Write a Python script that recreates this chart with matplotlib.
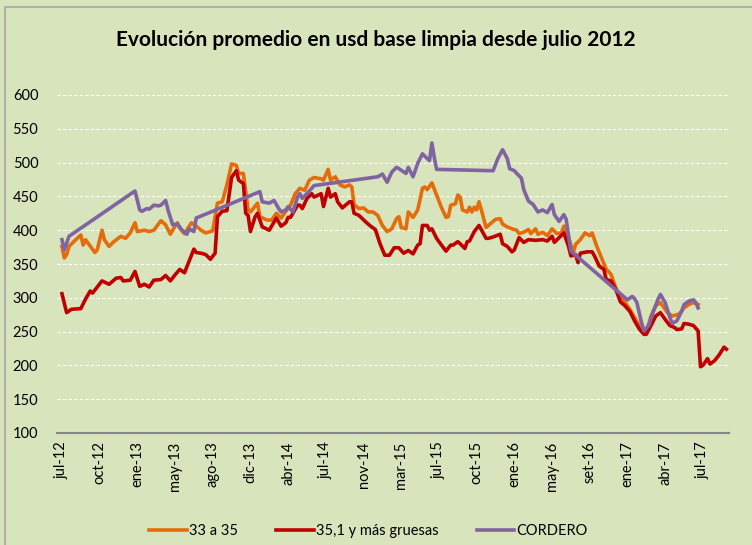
import matplotlib.pyplot as plt
from matplotlib.patches import Rectangle

plt.rcParams['font.family'] = ['Lato', 'DejaVu Sans']

# week index (category position) and value
fino_weeks = [0, 1, 2, 3, 5, 8, 9, 10, 14, 15, 17, 18, 20, 22, 25, 27, 29, 31, 32, 35,
              37, 39, 42, 44, 46, 48, 49, 50, 52, 55, 57, 59, 61, 64, 65, 66, 68, 70, 72, 74,
              75, 77, 79, 80, 83, 84, 87, 89, 91, 93, 95, 97, 99, 101, 103, 105, 107, 110, 111, 113,
              114, 116, 118, 120, 122, 123, 124, 126, 128, 130, 132, 134, 136, 138, 140, 142, 143, 144, 146, 147,
              149, 151, 153, 154, 155, 157, 159, 161, 163, 164, 165, 167, 168, 169, 170, 172, 173, 174, 175, 176,
              177, 178, 180, 182, 184, 186, 187, 189, 191, 193, 194, 196, 198, 199, 201, 202, 204, 206, 208, 210,
              212, 213, 215, 217, 218, 220, 222, 224, 225, 227, 229, 231, 233, 235, 237, 239, 241, 243, 245, 247,
              248, 250, 252, 254, 255, 257, 259, 262, 264, 266, 268, 270]
fino_vals = [376, 359, 364, 376, 383, 393, 378, 386, 367, 371, 400, 386, 376, 383, 391, 388, 396, 411, 398, 400,
             398, 400, 414, 408, 394, 406, 411, 403, 395, 411, 406, 400, 396, 399, 420, 440, 442, 467, 498, 496,
             484, 484, 430, 427, 440, 420, 415, 415, 425, 418, 428, 437, 454, 462, 459, 474, 478, 476, 474, 490,
             474, 479, 467, 464, 467, 464, 438, 432, 433, 427, 427, 422, 407, 398, 402, 417, 420, 404, 402, 427,
             419, 430, 462, 464, 460, 470, 452, 434, 419, 420, 437, 439, 452, 449, 430, 427, 434, 427, 434, 430,
             442, 430, 404, 410, 416, 417, 409, 405, 402, 400, 395, 397, 401, 395, 402, 394, 397, 392, 402, 395,
             396, 406, 389, 367, 379, 386, 396, 392, 396, 376, 359, 342, 335, 315, 301, 293, 283, 271, 259, 251,
             249, 273, 288, 293, 288, 278, 273, 276, 285, 290, 293, 290]

grueso_weeks = [0, 2, 4, 8, 10, 12, 13, 17, 20, 23, 25, 26, 29, 31, 33, 35, 37, 39, 42, 44,
                46, 48, 50, 52, 56, 57, 59, 61, 63, 65, 66, 68, 70, 72, 74, 75, 77, 78, 79, 80,
                82, 83, 85, 88, 91, 93, 95, 96, 97, 100, 101, 102, 104, 106, 107, 110, 111, 113, 114, 116,
                117, 119, 122, 123, 124, 126, 129, 131, 133, 135, 137, 139, 141, 143, 145, 147, 149, 151, 152, 153,
                155, 156, 157, 159, 160, 163, 165, 166, 168, 169, 171, 172, 173, 175, 177, 180, 181, 183, 186, 187,
                189, 191, 192, 194, 196, 198, 201, 204, 206, 208, 209, 211, 213, 215, 216, 218, 219, 220, 223, 225,
                226, 228, 230, 231, 233, 235, 237, 239, 241, 243, 245, 247, 248, 250, 252, 254, 256, 258, 260, 261,
                263, 264, 266, 268, 270, 271, 272, 274, 275, 277, 279, 281, 282]
grueso_vals = [306, 278, 283, 284, 298, 310, 307, 325, 320, 329, 330, 325, 326, 339, 317, 320, 316, 326, 327, 333,
               325, 334, 342, 337, 372, 367, 366, 364, 357, 366, 420, 428, 429, 478, 488, 474, 469, 425, 422, 398,
               420, 425, 405, 400, 418, 406, 411, 419, 419, 437, 437, 432, 447, 454, 449, 454, 435, 462, 449, 454,
               442, 433, 442, 442, 425, 422, 412, 406, 401, 380, 363, 363, 374, 374, 366, 370, 365, 378, 380, 407,
               407, 400, 402, 388, 383, 369, 378, 378, 383, 380, 373, 383, 384, 398, 407, 388, 388, 390, 394, 380,
               376, 368, 371, 389, 382, 386, 385, 386, 384, 391, 382, 389, 396, 376, 362, 364, 352, 366, 368, 368,
               362, 347, 342, 327, 325, 313, 294, 288, 280, 266, 254, 246, 246, 259, 273, 278, 268, 259, 256, 253,
               254, 262, 261, 259, 251, 198, 200, 210, 202, 207, 216, 227, 224]

cordero_weeks = [0, 1, 3, 31, 33, 34, 36, 37, 39, 41, 42, 44, 45, 47, 49, 51, 53, 54, 56, 57,
                 84, 85, 88, 90, 92, 93, 95, 96, 98, 100, 101, 102, 105, 107, 134, 136, 138, 140, 142, 143,
                 146, 147, 149, 151, 153, 155, 156, 157, 158, 159, 183, 185, 187, 189, 190, 192, 193, 195, 196, 198,
                 200, 202, 204, 206, 208, 209, 211, 213, 214, 216, 240, 242, 243, 244, 246, 247, 249, 251, 253, 254,
                 256, 258, 259, 261, 263, 264, 266, 268, 269, 270]
cordero_vals = [386, 371, 391, 458, 430, 428, 432, 431, 437, 436, 437, 444, 430, 408, 409, 400, 394, 402, 398, 418,
                457, 442, 440, 444, 432, 427, 430, 435, 427, 449, 454, 447, 458, 466, 479, 483, 471, 486, 493, 491,
                484, 493, 479, 499, 513, 506, 503, 529, 508, 490, 488, 506, 519, 506, 491, 488, 484, 477, 460, 443,
                438, 427, 430, 426, 438, 423, 413, 423, 416, 369, 297, 302, 299, 293, 263, 251, 259, 280, 298, 305,
                293, 271, 262, 266, 280, 290, 295, 297, 293, 285]

tick_labels = ['jul-12', 'oct-12', 'ene-13', 'may-13', 'ago-13', 'dic-13', 'abr-14', 'jul-14', 'nov-14',
               'mar-15', 'jul-15', 'oct-15', 'ene-16', 'may-16', 'set-16', 'ene-17', 'abr-17', 'jul-17']
WEEKS_PER_LABEL = 16

BG = '#d8e4bc'

fig = plt.figure(figsize=(7.52, 5.45), dpi=100, facecolor=BG)
fig.patches.append(Rectangle((5 / 752, -0.05), 1.1, 1 - 7 / 545 + 0.05, transform=fig.transFigure,
                             fill=False, edgecolor='#a6a6a6', linewidth=1.2))

ax = fig.add_axes([57 / 752, 1 - 433 / 545, 672 / 752, 338 / 545])
ax.set_facecolor(BG)

ax.plot(fino_weeks, fino_vals, color='#e46c0a', lw=2.6, label='33 a 35', solid_joinstyle='round')
ax.plot(grueso_weeks, grueso_vals, color='#c00000', lw=2.6, label='35,1 y más gruesas', solid_joinstyle='round')
ax.plot(cordero_weeks, cordero_vals, color='#8064a2', lw=2.6, label='CORDERO', solid_joinstyle='round')

ax.set_ylim(100, 600)
ax.set_yticks(range(100, 601, 50))
ax.set_xlim(-2.1, 283.1)
ax.set_xticks([i * WEEKS_PER_LABEL for i in range(len(tick_labels))])
ax.set_xticklabels(tick_labels, rotation=90)

ax.grid(axis='y', color='white', linestyle=(0, (3, 2)), linewidth=0.8)
ax.set_axisbelow(True)
for s in ['left', 'right', 'top']:
    ax.spines[s].set_visible(False)
ax.spines['bottom'].set_color('#868686')
ax.spines['bottom'].set_linewidth(1.5)
ax.tick_params(axis='both', length=0, labelsize=10.5, colors='black')
ax.tick_params(axis='y', pad=13.5)
ax.tick_params(axis='x', pad=6)

fig.text(0.5, 1 - 40 / 545, 'Evolución promedio en usd base limpia desde julio 2012',
         ha='center', va='center', fontsize=15, fontweight='bold')

fig.legend(loc='center', bbox_to_anchor=(0.49, 1 - 531 / 545), ncol=3, frameon=False,
           fontsize=10.5, handlelength=2.6, handletextpad=0.15, columnspacing=2.6)

fig.savefig('out.png', dpi=100, facecolor=BG)
